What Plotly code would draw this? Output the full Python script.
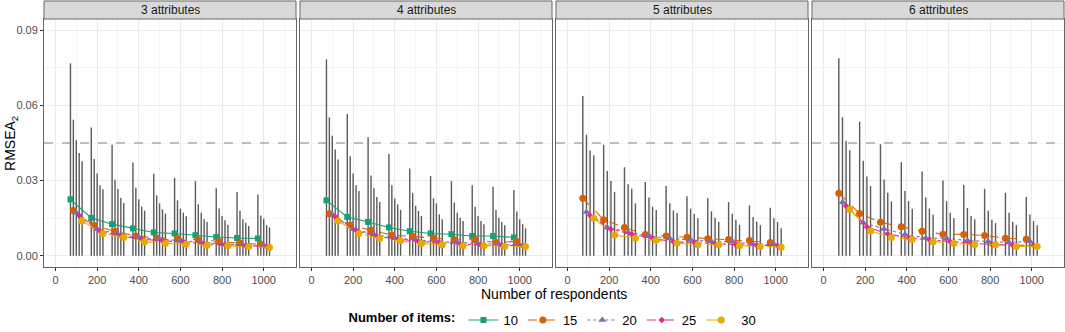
import plotly.graph_objects as go

# ---------------- data ----------------
respondents = [100, 200, 300, 400, 500, 600, 700, 800, 900, 1000]
panels = ["3 attributes", "4 attributes", "5 attributes", "6 attributes"]
items = ["10", "15", "20", "25", "30"]
threshold = 0.045

# mean RMSEA2 per panel / number of items
mean_3_10 = [0.0225, 0.0151, 0.0126, 0.0109, 0.0093, 0.0089, 0.0082, 0.0075, 0.0071, 0.0069]
mean_3_15 = [0.0181, 0.0122, 0.0097, 0.0079, 0.0071, 0.0069, 0.0064, 0.0057, 0.0050, 0.0046]
mean_3_20 = [0.0172, 0.0106, 0.0086, 0.0073, 0.0066, 0.0060, 0.0053, 0.0046, 0.0042, 0.0040]
mean_3_25 = [0.0161, 0.0099, 0.0079, 0.0066, 0.0060, 0.0056, 0.0049, 0.0044, 0.0040, 0.0037]
mean_3_30 = [0.0139, 0.0089, 0.0073, 0.0056, 0.0049, 0.0046, 0.0042, 0.0040, 0.0037, 0.0033]

mean_4_10 = [0.0221, 0.0155, 0.0135, 0.0113, 0.0098, 0.0089, 0.0086, 0.0079, 0.0079, 0.0073]
mean_4_15 = [0.0168, 0.0122, 0.0102, 0.0082, 0.0077, 0.0070, 0.0064, 0.0064, 0.0053, 0.0057]
mean_4_20 = [0.0165, 0.0106, 0.0086, 0.0070, 0.0064, 0.0056, 0.0053, 0.0049, 0.0046, 0.0042]
mean_4_25 = [0.0156, 0.0102, 0.0077, 0.0066, 0.0057, 0.0053, 0.0046, 0.0042, 0.0042, 0.0040]
mean_4_30 = [0.0139, 0.0089, 0.0069, 0.0060, 0.0049, 0.0044, 0.0040, 0.0040, 0.0037, 0.0037]

mean_5_15 = [0.0229, 0.0144, 0.0113, 0.0085, 0.0079, 0.0074, 0.0068, 0.0065, 0.0061, 0.0053]
mean_5_20 = [0.0175, 0.0113, 0.0094, 0.0079, 0.0069, 0.0064, 0.0057, 0.0056, 0.0046, 0.0046]
mean_5_25 = [0.0161, 0.0106, 0.0086, 0.0069, 0.0056, 0.0053, 0.0049, 0.0044, 0.0042, 0.0040]
mean_5_30 = [0.0150, 0.0083, 0.0070, 0.0062, 0.0050, 0.0044, 0.0044, 0.0040, 0.0037, 0.0034]

mean_6_15 = [0.0249, 0.0169, 0.0134, 0.0116, 0.0098, 0.0086, 0.0085, 0.0081, 0.0070, 0.0066]
mean_6_20 = [0.0213, 0.0132, 0.0107, 0.0085, 0.0071, 0.0069, 0.0061, 0.0057, 0.0053, 0.0057]
mean_6_25 = [0.0199, 0.0115, 0.0087, 0.0071, 0.0064, 0.0056, 0.0050, 0.0045, 0.0042, 0.0042]
mean_6_30 = [0.0185, 0.0099, 0.0073, 0.0065, 0.0056, 0.0049, 0.0045, 0.0044, 0.0037, 0.0037]

# upper end of the range bars
upper_3_10 = [0.0768, 0.0512, 0.0443, 0.0372, 0.0327, 0.0311, 0.0298, 0.0269, 0.0254, 0.0244]
upper_3_15 = [0.0543, 0.0386, 0.0303, 0.0271, 0.0241, 0.0221, 0.0205, 0.0189, 0.0180, 0.0161]
upper_3_20 = [0.0461, 0.0328, 0.0266, 0.0225, 0.0209, 0.0188, 0.0172, 0.0159, 0.0146, 0.0148]
upper_3_25 = [0.0410, 0.0281, 0.0230, 0.0196, 0.0185, 0.0172, 0.0146, 0.0142, 0.0132, 0.0122]
upper_3_30 = [0.0377, 0.0265, 0.0210, 0.0180, 0.0168, 0.0158, 0.0135, 0.0124, 0.0119, 0.0113]

upper_4_10 = [0.0784, 0.0566, 0.0473, 0.0406, 0.0348, 0.0318, 0.0298, 0.0281, 0.0275, 0.0262]
upper_4_15 = [0.0552, 0.0397, 0.0320, 0.0281, 0.0251, 0.0229, 0.0212, 0.0196, 0.0183, 0.0177]
upper_4_20 = [0.0479, 0.0328, 0.0269, 0.0228, 0.0199, 0.0209, 0.0172, 0.0159, 0.0152, 0.0146]
upper_4_25 = [0.0424, 0.0281, 0.0234, 0.0205, 0.0179, 0.0165, 0.0152, 0.0139, 0.0135, 0.0126]
upper_4_30 = [0.0384, 0.0258, 0.0214, 0.0183, 0.0159, 0.0146, 0.0139, 0.0126, 0.0122, 0.0109]

upper_5_15 = [0.0638, 0.0443, 0.0353, 0.0294, 0.0278, 0.0237, 0.0229, 0.0214, 0.0201, 0.0192]
upper_5_20 = [0.0483, 0.0338, 0.0285, 0.0232, 0.0209, 0.0188, 0.0177, 0.0168, 0.0155, 0.0150]
upper_5_25 = [0.0420, 0.0298, 0.0267, 0.0196, 0.0181, 0.0168, 0.0152, 0.0144, 0.0136, 0.0135]
upper_5_30 = [0.0401, 0.0255, 0.0209, 0.0183, 0.0171, 0.0150, 0.0135, 0.0123, 0.0122, 0.0110]

upper_6_15 = [0.0788, 0.0535, 0.0445, 0.0373, 0.0336, 0.0300, 0.0283, 0.0267, 0.0251, 0.0234]
upper_6_20 = [0.0553, 0.0379, 0.0304, 0.0258, 0.0232, 0.0218, 0.0191, 0.0180, 0.0172, 0.0165]
upper_6_25 = [0.0458, 0.0316, 0.0251, 0.0218, 0.0189, 0.0172, 0.0159, 0.0144, 0.0136, 0.0139]
upper_6_30 = [0.0421, 0.0278, 0.0217, 0.0188, 0.0165, 0.0150, 0.0146, 0.0130, 0.0122, 0.0122]

panel_data = [
    {"10": (mean_3_10, upper_3_10), "15": (mean_3_15, upper_3_15), "20": (mean_3_20, upper_3_20),
     "25": (mean_3_25, upper_3_25), "30": (mean_3_30, upper_3_30)},
    {"10": (mean_4_10, upper_4_10), "15": (mean_4_15, upper_4_15), "20": (mean_4_20, upper_4_20),
     "25": (mean_4_25, upper_4_25), "30": (mean_4_30, upper_4_30)},
    {"15": (mean_5_15, upper_5_15), "20": (mean_5_20, upper_5_20),
     "25": (mean_5_25, upper_5_25), "30": (mean_5_30, upper_5_30)},
    {"15": (mean_6_15, upper_6_15), "20": (mean_6_20, upper_6_20),
     "25": (mean_6_25, upper_6_25), "30": (mean_6_30, upper_6_30)},
]

# ---------------- styles ----------------
colors = {"10": "#1B9E77", "15": "#D95F02", "20": "#7570B3", "25": "#E7298A", "30": "#E6AB02"}
dashes = {"10": "solid", "15": "dash", "20": "dot", "25": "dashdot", "30": "longdash"}
symbols = {"10": "square", "15": "circle", "20": "triangle-up", "25": "diamond", "30": "circle"}
msizes = {"10": 6, "15": 7, "20": 7, "25": 5, "30": 7}
DODGE = 70
FONT = "Liberation Sans, Arial, sans-serif"

fig = go.Figure()

n_pan = len(panels)
gap = 4 / 1020
w = (1 - gap * (n_pan - 1)) / n_pan
ytop = 248 / 266

legend_done = set()
for p, pdata in enumerate(panel_data):
    ax = "" if p == 0 else str(p + 1)
    keys = [k for k in items if k in pdata]
    n = len(keys)
    for i, k in enumerate(keys):
        off = -DODGE / 2 + DODGE / n * (i + 0.5)
        xs = [r + off for r in respondents]
        mean, up = pdata[k]
        bx, by = [], []
        for x, u in zip(xs, up):
            bx += [x, x, None]
            by += [0, u, None]
        fig.add_trace(go.Scatter(x=bx, y=by, mode="lines", line=dict(color="#5A5A5A", width=1.4),
                                 showlegend=False, hoverinfo="skip", xaxis="x" + ax, yaxis="y" + ax))
    for i, k in enumerate(keys):
        off = -DODGE / 2 + DODGE / n * (i + 0.5)
        xs = [r + off for r in respondents]
        mean, up = pdata[k]
        fig.add_trace(go.Scatter(x=xs, y=mean, mode="lines+markers", name=k,
                                 legendgroup=k, showlegend=k not in legend_done,
                                 line=dict(color=colors[k], width=1.1, dash=dashes[k]),
                                 marker=dict(color=colors[k], symbol=symbols[k], size=msizes[k]),
                                 xaxis="x" + ax, yaxis="y" + ax))
        legend_done.add(k)

layout = {}
for p in range(n_pan):
    ax = "" if p == 0 else str(p + 1)
    d0 = p * (w + gap)
    layout["xaxis" + ax] = dict(
        domain=[d0, d0 + w], range=[-55, 1155], anchor="y" + ax, automargin=False,
        tickvals=[0, 200, 400, 600, 800, 1000], ticks="outside", ticklen=3, tickcolor="#333333",
        tickfont=dict(size=11, color="#4D4D4D", family=FONT),
        showgrid=True, gridcolor="#EBEBEB", gridwidth=1,
        minor=dict(dtick=100, tick0=0, showgrid=True, gridcolor="#F4F4F4", gridwidth=0.6, ticks=""),
        showline=True, mirror=True, linecolor="#666666", linewidth=1, zeroline=False)
    layout["yaxis" + ax] = dict(
        domain=[0, ytop], range=[-0.0045, 0.0945], anchor="x" + ax, automargin=False,
        tickvals=[0, 0.03, 0.06, 0.09], ticktext=["0.00", "0.03", "0.06", "0.09"],
        showticklabels=(p == 0), ticks="outside" if p == 0 else "", ticklen=3, tickcolor="#333333",
        tickfont=dict(size=11, color="#4D4D4D", family=FONT),
        showgrid=True, gridcolor="#EBEBEB", gridwidth=1,
        minor=dict(dtick=0.015, tick0=0, showgrid=True, gridcolor="#F4F4F4", gridwidth=0.6, ticks=""),
        showline=True, mirror=True, linecolor="#666666", linewidth=1, zeroline=False)

shapes = []
annotations = []
for p, title in enumerate(panels):
    ax = "" if p == 0 else str(p + 1)
    d0 = p * (w + gap)
    shapes.append(dict(type="line", xref=f"x{ax} domain", yref="y" + ax, x0=0, x1=1,
                       y0=threshold, y1=threshold, line=dict(color="#808080", width=1, dash="dash"),
                       layer="above"))
    shapes.append(dict(type="rect", xref="paper", yref="paper", x0=d0, x1=d0 + w, y0=ytop, y1=1.0,
                       fillcolor="#D9D9D9", line=dict(color="#666666", width=1)))
    annotations.append(dict(text=title, xref="paper", yref="paper", x=d0 + w / 2, y=(ytop + 1) / 2,
                            showarrow=False, xanchor="center", yanchor="middle",
                            font=dict(size=12, color="#1A1A1A", family=FONT)))

annotations.append(dict(text="Number of respondents", xref="paper", yref="paper", x=0.5, y=-0.102,
                        showarrow=False, xanchor="center", yanchor="middle",
                        font=dict(size=14, color="#000000", family=FONT)))
annotations.append(dict(text="RMSEA<sub>2</sub>", xref="paper", yref="paper", x=-0.0324, y=ytop / 2,
                        showarrow=False, xanchor="center", yanchor="middle", textangle=-90,
                        font=dict(size=14, color="#000000", family=FONT)))

fig.update_layout(
    width=1065, height=332,
    margin=dict(l=44, r=1, t=1, b=65),
    paper_bgcolor="white", plot_bgcolor="white",
    font=dict(family=FONT),
    shapes=shapes, annotations=annotations,
    legend=dict(orientation="h", x=0.5, xanchor="center", xref="paper",
                y=12 / 332, yanchor="middle", yref="container",
                title=dict(text="<b>Number of items:</b>", font=dict(size=13, color="#000000", family=FONT)),
                font=dict(size=13, color="#000000", family=FONT), itemwidth=30, tracegroupgap=0),
    **layout,
)

fig.write_html("out.html", config={"displayModeBar": False},
               post_script="document.body.style.margin='0';")
